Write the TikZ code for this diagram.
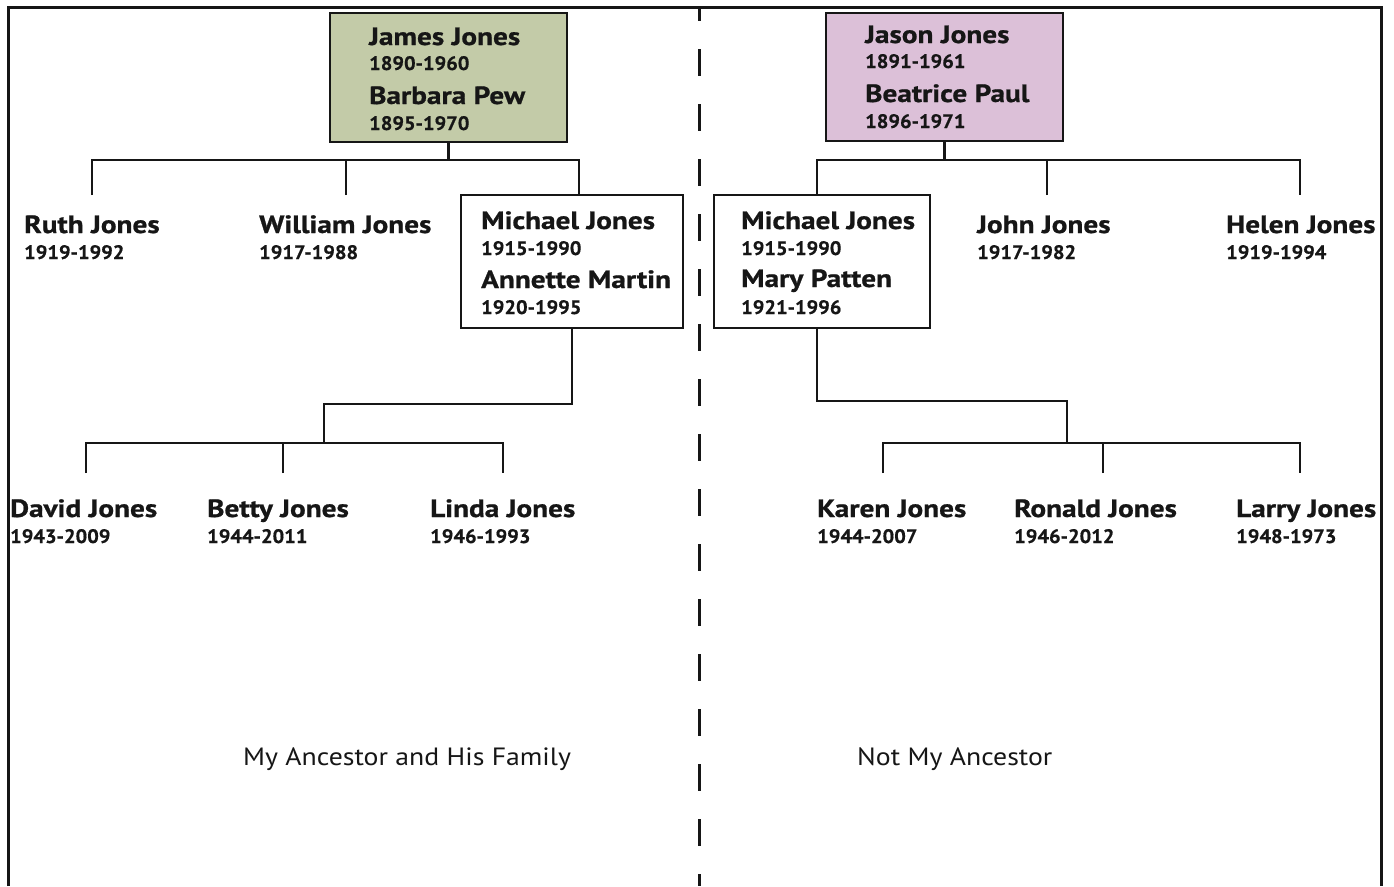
\documentclass[tikz,border=0pt]{standalone}
\usepackage{fontspec}
\setmainfont{PT Sans}
\newfontfamily\namefont{PT Sans}[FakeStretch=1.17, FakeBold=0.8]
\newfontfamily\datefont{PT Sans}[FakeStretch=1.05, FakeBold=0.6]
\newfontfamily\capfont{PT Sans}[FakeStretch=1.11]
\definecolor{ink}{HTML}{161616}
\definecolor{sage}{HTML}{C3CBA8}
\definecolor{mauve}{HTML}{DCC0D8}
\tikzset{
  nm/.style={anchor=base west, inner sep=0pt, text=ink, font=\namefont\fontsize{25}{25}\selectfont\bfseries},
  dt/.style={anchor=base west, inner sep=0pt, text=ink, font=\datefont\fontsize{19.5}{20}\selectfont\bfseries},
  capt/.style={anchor=base west, inner sep=0pt, text=ink, font=\capfont\fontsize{25}{25}\selectfont},
  famblock/.style={draw=ink, line width=2.4pt, inner sep=0pt},
  link/.style={draw=ink, line width=2.4pt},
}
\begin{document}
\begin{tikzpicture}[x=1pt,y=-1pt]
\useasboundingbox (0,0) rectangle (1394,886);
\fill[white] (0,0) rectangle (1394,886);
% frame
\coordinate (fBL) at (8,886);
\coordinate (fTL) at (8,7);
\coordinate (fTR) at (1381,7);
\coordinate (fBR) at (1381,886);
\draw[ink, line width=3pt] (fBL) -- (fTL) -- (fTR) -- (fBR);
% divider
\coordinate (dTop) at (699,7);
\coordinate (dBot) at (699,886);
\draw[ink, line width=3pt, dash pattern=on 27pt off 28pt, dash phase=13pt] (dTop) -- (dBot);

% ---------- left side ----------
\node[famblock, fill=sage, minimum width=237pt, minimum height=129pt] (gbox) at (448.5,77.5) {};
\node[nm] (jj) at (369,45) {James Jones};
\node[dt] (jjd) at (369,70) {1890-1960};
\node[nm] (bp) at (369,104) {Barbara Pew};
\node[dt] (bpd) at (369,130) {1895-1970};

\node[famblock, fill=white, minimum width=222pt, minimum height=133pt] (mL) at (572,261.5) {};
\node[nm] (mlj) at (481,229) {Michael Jones};
\node[dt] (mljd) at (481,255) {1915-1990};
\node[nm] (am) at (481,288) {Annette Martin};
\node[dt] (amd) at (481,314) {1920-1995};

\node[nm] (ruth) at (24,233) {Ruth Jones};
\node[dt] (ruthd) at (24,259) {1919-1992};
\node[nm] (will) at (259,233) {William Jones};
\node[dt] (willd) at (259,259) {1917-1988};

\coordinate (ruthc) at (92,195);
\coordinate (willc) at (346,195);
\coordinate (b1L) at (92,160);
\coordinate (b1R) at (579,160);
\draw[link] (ruthc) -- (b1L) -- (b1R) -- (mL.north -| b1R);
\draw[link] (gbox.south) -- (gbox.south |- b1L);
\draw[link] (willc) -- (willc |- b1L);

\node[nm] (david) at (10,517) {David Jones};
\node[dt] (davidd) at (10,543) {1943-2009};
\node[nm] (betty) at (207,517) {Betty Jones};
\node[dt] (bettyd) at (207,543) {1944-2011};
\node[nm] (linda) at (430,517) {Linda Jones};
\node[dt] (lindad) at (430,543) {1946-1993};

\coordinate (kL1) at (572,404);
\coordinate (kL2) at (324,404);
\coordinate (b2L) at (86,443);
\coordinate (b2R) at (503,443);
\coordinate (davidc) at (86,473);
\coordinate (bettyc) at (283,473);
\coordinate (lindac) at (503,473);
\draw[link] (mL.south) -- (kL1) -- (kL2) -- (kL2 |- b2L);
\draw[link] (davidc) -- (b2L) -- (b2R) -- (lindac);
\draw[link] (bettyc) -- (bettyc |- b2L);

\node[capt] (capL) at (243,765) {My Ancestor and His Family};

% ---------- right side ----------
\node[famblock, fill=mauve, minimum width=237pt, minimum height=128pt] (pbox) at (944.5,77) {};
\node[nm] (jsj) at (865,43) {Jason Jones};
\node[dt] (jsjd) at (865,68) {1891-1961};
\node[nm] (bpl) at (865,102) {Beatrice Paul};
\node[dt] (bpld) at (865,128) {1896-1971};

\node[famblock, fill=white, minimum width=216pt, minimum height=133pt] (mR) at (822,261.5) {};
\node[nm] (mrj) at (741,229) {Michael Jones};
\node[dt] (mrjd) at (741,255) {1915-1990};
\node[nm] (mp) at (741,287) {Mary Patten};
\node[dt] (mpd) at (741,314) {1921-1996};

\node[nm] (john) at (977,233) {John Jones};
\node[dt] (johnd) at (977,259) {1917-1982};
\node[nm] (helen) at (1226,233) {Helen Jones};
\node[dt] (helend) at (1226,259) {1919-1994};

\coordinate (b3L) at (817,160);
\coordinate (b3R) at (1300,160);
\coordinate (johnc) at (1047,195);
\coordinate (helenc) at (1300,195);
\draw[link] (mR.north -| b3L) -- (b3L) -- (b3R) -- (helenc);
\draw[link] (pbox.south) -- (pbox.south |- b3L);
\draw[link] (johnc) -- (johnc |- b3L);

\node[nm] (karen) at (817,517) {Karen Jones};
\node[dt] (karend) at (817,543) {1944-2007};
\node[nm] (ronald) at (1014,517) {Ronald Jones};
\node[dt] (ronaldd) at (1014,543) {1946-2012};
\node[nm] (larry) at (1236,517) {Larry Jones};
\node[dt] (larryd) at (1236,543) {1948-1973};

\coordinate (kR1) at (817,401);
\coordinate (kR2) at (1067,401);
\coordinate (b4L) at (883,443);
\coordinate (b4R) at (1300,443);
\coordinate (karenc) at (883,473);
\coordinate (ronaldc) at (1103,473);
\coordinate (larryc) at (1300,473);
\draw[link] (mR.south -| kR1) -- (kR1) -- (kR2) -- (kR2 |- b4L);
\draw[link] (karenc) -- (b4L) -- (b4R) -- (larryc);
\draw[link] (ronaldc) -- (ronaldc |- b4L);

\node[capt] (capR) at (857,765) {Not My Ancestor};
\end{tikzpicture}
\end{document}
